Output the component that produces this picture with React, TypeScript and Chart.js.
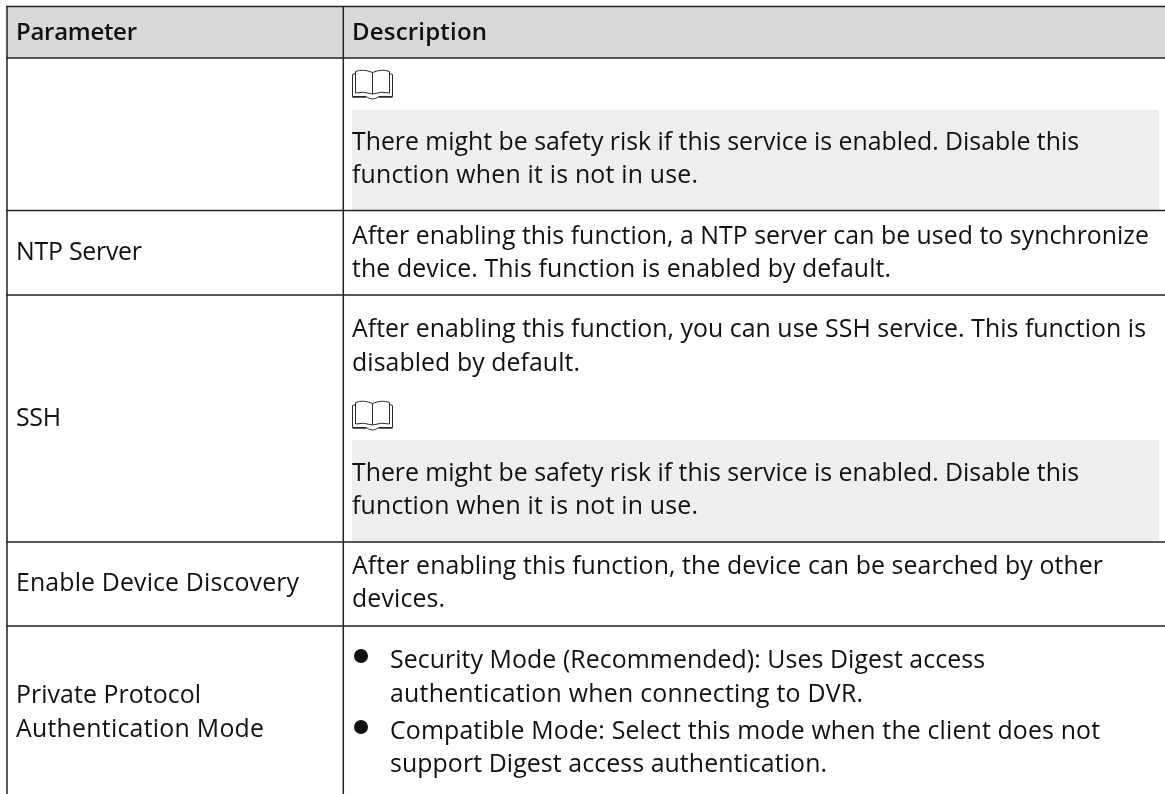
import React, { useEffect, useRef } from "react";
import { Chart, registerables } from "chart.js";

Chart.register(...registerables);

const headers = ["Parameter", "Description"];
const parameters = [
  ["NTP Server"],
  ["SSH"],
  ["Enable Device Discovery"],
  ["Private Protocol", "Authentication Mode"],
];
const noteLines = [
  "There might be safety risk if this service is enabled. Disable this",
  "function when it is not in use.",
];
const ntpLines = [
  "After enabling this function, a NTP server can be used to synchronize",
  "the device. This function is enabled by default.",
];
const sshLines = [
  "After enabling this function, you can use SSH service. This function is",
  "disabled by default.",
];
const discoveryLines = [
  "After enabling this function, the device can be searched by other",
  "devices.",
];
const bulletOne = [
  "Security Mode (Recommended): Uses Digest access",
  "authentication when connecting to DVR.",
];
const bulletTwo = [
  "Compatible Mode: Select this mode when the client does not",
  "support Digest access authentication.",
];

const FONT = '"Open Sans", "Noto Sans", sans-serif';
const rowLines = [6.5, 58, 210.5, 295, 542, 626];
const colLines = [7, 343.3];
const SIZE = 24.85;

// Right edge of each text line in the layout, used to fit the substitute font's width.
const lineEnds: Record<string, number> = {
  [headers[0]]: 137,
  [headers[1]]: 487,
  [parameters[0][0]]: 142,
  [parameters[1][0]]: 61,
  [parameters[2][0]]: 299,
  [parameters[3][0]]: 201,
  [parameters[3][1]]: 264,
  [noteLines[0]]: 1079,
  [noteLines[1]]: 698,
  [ntpLines[0]]: 1149,
  [ntpLines[1]]: 891,
  [sshLines[0]]: 1146,
  [sshLines[1]]: 580,
  [discoveryLines[0]]: 1103,
  [discoveryLines[1]]: 445,
  [bulletOne[0]]: 985,
  [bulletOne[1]]: 863,
  [bulletTwo[0]]: 1100,
  [bulletTwo[1]]: 827,
};

function book(ctx: CanvasRenderingContext2D, x: number, y: number) {
  ctx.save();
  ctx.strokeStyle = "#2a2a2a";
  ctx.lineWidth = 1;
  ctx.beginPath();
  ctx.moveTo(x + 20.5, y + 3.5);
  ctx.quadraticCurveTo(x + 11, y - 0.5, x + 3.5, y + 2.5);
  ctx.lineTo(x + 3.5, y + 24);
  ctx.quadraticCurveTo(x + 11, y + 22, x + 20.5, y + 25);
  ctx.quadraticCurveTo(x + 30, y + 22, x + 37.5, y + 24);
  ctx.lineTo(x + 37.5, y + 2.5);
  ctx.quadraticCurveTo(x + 30, y - 0.5, x + 20.5, y + 3.5);
  ctx.moveTo(x + 20.5, y + 3.5);
  ctx.lineTo(x + 20.5, y + 25);
  ctx.moveTo(x + 3.5, y + 4.5);
  ctx.lineTo(x + 0.5, y + 5.5);
  ctx.lineTo(x + 0.5, y + 27.5);
  ctx.lineTo(x + 14, y + 27.5);
  ctx.quadraticCurveTo(x + 20.5, y + 32.5, x + 27, y + 27.5);
  ctx.lineTo(x + 40.5, y + 27.5);
  ctx.lineTo(x + 40.5, y + 5.5);
  ctx.lineTo(x + 37.5, y + 4.5);
  ctx.stroke();
  ctx.beginPath();
  ctx.lineWidth = 1.6;
  ctx.moveTo(x + 0.5, y + 28);
  ctx.lineTo(x + 14, y + 28);
  ctx.moveTo(x + 27, y + 28);
  ctx.lineTo(x + 40.5, y + 28);
  ctx.stroke();
  ctx.restore();
}

const tablePlugin = {
  id: "tablePlugin",
  afterDatasetsDraw(chart: any) {
    const { ctx, scales } = chart;
    const X = (v: number) => scales.x.getPixelForValue(v);
    const Y = (v: number) => scales.y.getPixelForValue(v);
    ctx.save();
    ctx.fillStyle = "#d9d9d9";
    ctx.fillRect(X(7), Y(7), X(1165) - X(7), Y(58) - Y(7));
    ctx.fillStyle = "#eeeeee";
    ctx.fillRect(X(352), Y(110), X(1159) - X(352), Y(210) - Y(110));
    ctx.fillRect(X(352), Y(440), X(1159) - X(352), Y(541) - Y(440));

    ctx.strokeStyle = "#222";
    ctx.lineWidth = 1.5;
    ctx.beginPath();
    rowLines.forEach((r) => {
      ctx.moveTo(X(6), Y(r));
      ctx.lineTo(X(1165), Y(r));
    });
    colLines.forEach((c) => {
      ctx.moveTo(X(c), Y(6));
      ctx.lineTo(X(c), Y(794));
    });
    ctx.stroke();

    ctx.fillStyle = "#111";
    ctx.textBaseline = "alphabetic";
    const text = (s: string, x: number, y: number) => {
      ctx.letterSpacing = "0px";
      const natural = ctx.measureText(s).width;
      const spacing = (lineEnds[s] - x - natural) / (s.length - 1);
      ctx.letterSpacing = `${spacing}px`;
      ctx.fillText(s, X(x), Y(y));
      ctx.letterSpacing = "0px";
    };

    ctx.font = `600 24px ${FONT}`;
    text(headers[0], 16, 40);
    text(headers[1], 352, 40);

    ctx.font = `400 ${SIZE}px ${FONT}`;
    text(parameters[0][0], 16, 260);
    text(parameters[1][0], 16, 426);
    text(parameters[2][0], 16, 591);
    text(parameters[3][0], 16, 703);
    text(parameters[3][1], 16, 737);

    noteLines.forEach((l, i) => text(l, 352, 150 + i * 33));
    ntpLines.forEach((l, i) => text(l, 352, 244 + i * 33));
    sshLines.forEach((l, i) => text(l, 352, 337 + i * 33.5));
    noteLines.forEach((l, i) => text(l, 352, 481 + i * 33));
    discoveryLines.forEach((l, i) => text(l, 352, 574 + i * 33));
    bulletOne.forEach((l, i) => text(l, 390, 668 + i * 33.5));
    bulletTwo.forEach((l, i) => text(l, 390, 739 + i * 33));
    [656, 727].forEach((y) => {
      ctx.beginPath();
      ctx.arc(X(361), Y(y), 7, 0, Math.PI * 2);
      ctx.fill();
    });
    book(ctx, X(352), Y(69));
    book(ctx, X(352), Y(400));
    ctx.restore();
  },
};

export default function App() {
  const ref = useRef<HTMLCanvasElement>(null);
  useEffect(() => {
    document.body.style.margin = "0";
    const chart = new Chart(ref.current!, {
      type: "scatter",
      data: { datasets: [{ data: [] }] },
      options: {
        animation: false,
        responsive: false,
        layout: { padding: 0 },
        plugins: { legend: { display: false }, tooltip: { enabled: false } },
        scales: {
          x: { type: "linear", min: 0, max: 1165, display: false },
          y: { type: "linear", min: 0, max: 794, reverse: true, display: false },
        },
      },
      plugins: [tablePlugin],
    });
    return () => chart.destroy();
  }, []);
  return <canvas ref={ref} width={1165} height={794} style={{ display: "block" }} />;
}
